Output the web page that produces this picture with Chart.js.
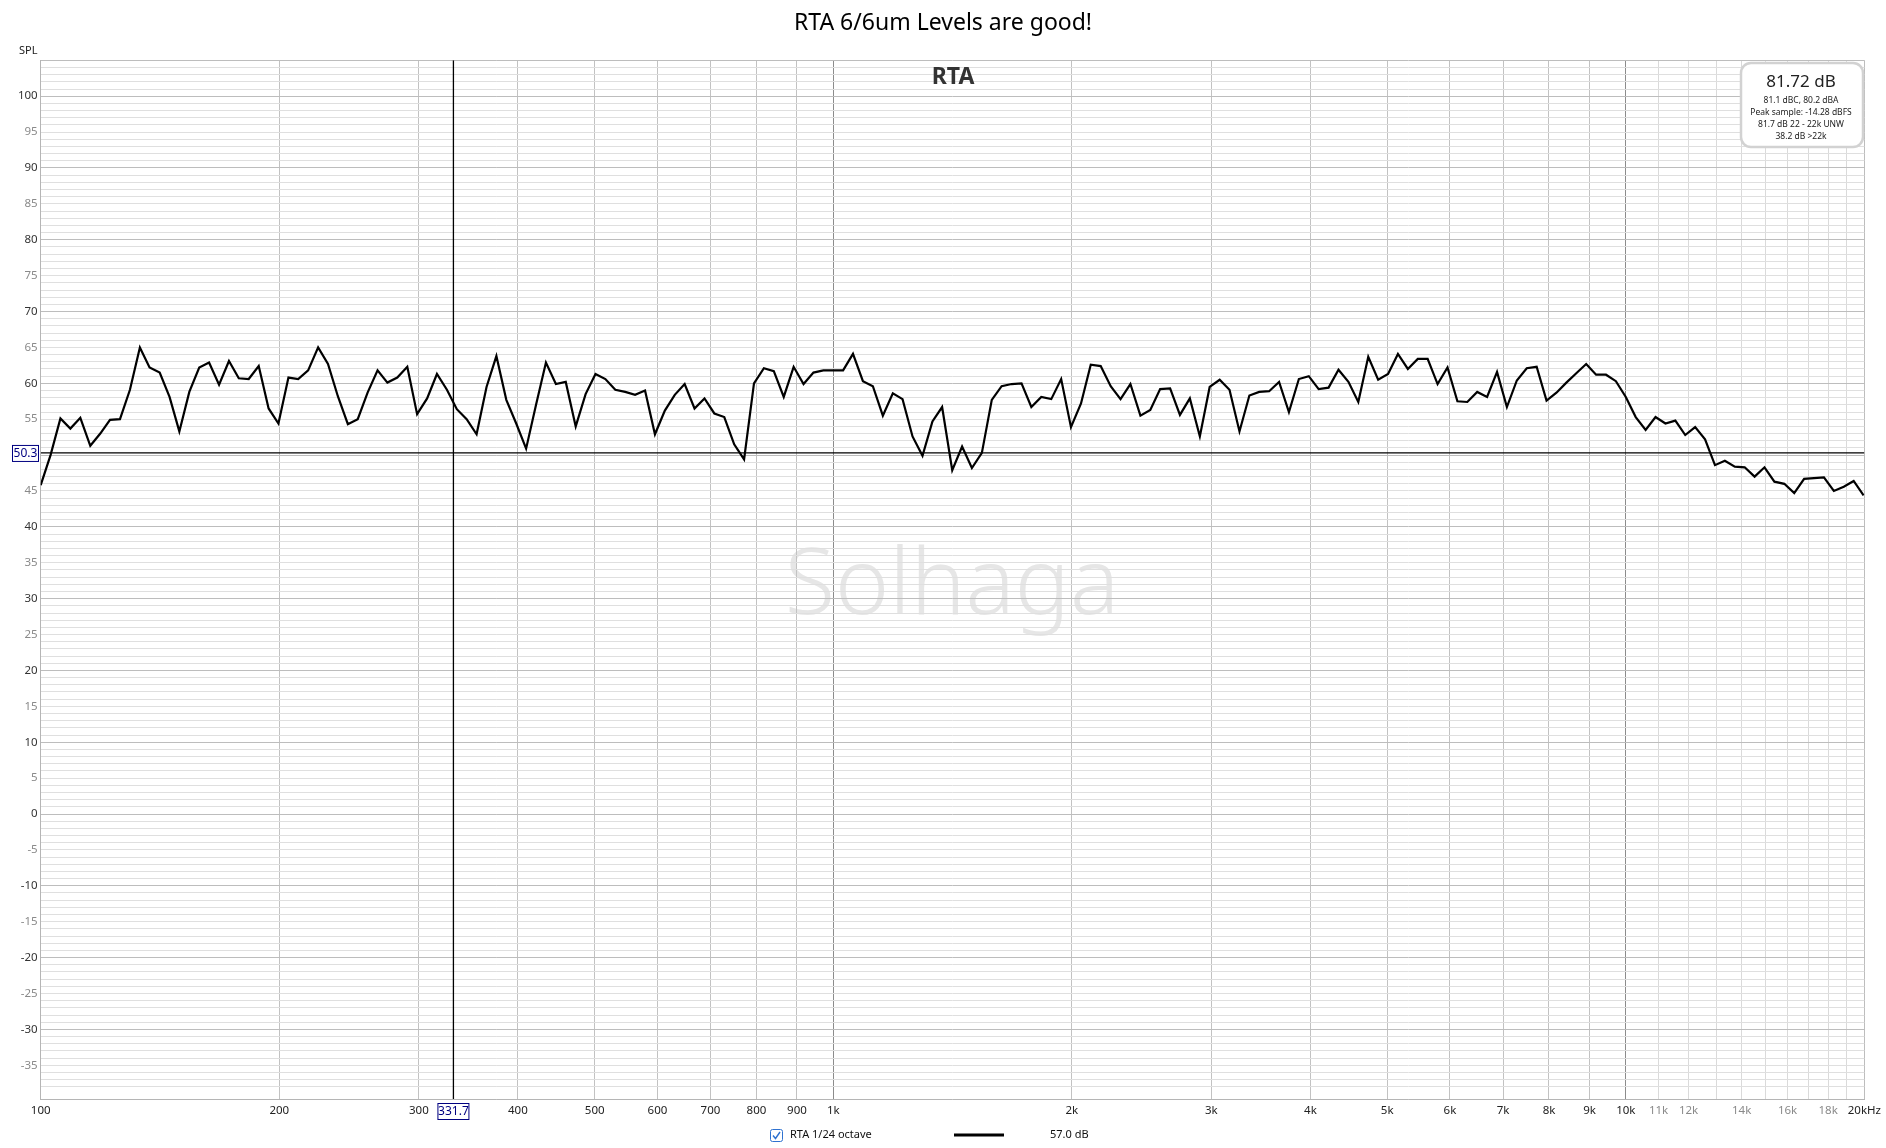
<!DOCTYPE html>
<html lang="en">
<head>
  <meta charset="UTF-8">
  <title>RTA 6/6um Levels are good!</title>
  <script src="https://cdn.jsdelivr.net/npm/chart.js"></script>
  <style>
    body { margin: 0; background: #fff; }
    #rtaChart { display: block; }
  </style>
</head>
<body>
  <canvas id="rtaChart" width="1886" height="1148"></canvas>
  <script>
    // 1/24 octave-ish analysis points (Hz)
    const freqs = [
      100, 102.9, 105.9, 109.0, 112.2, 115.5, 118.9, 122.3, 125.9, 129.6,
      133.4, 137.2, 141.3, 145.4, 149.6, 154.0, 158.5, 163.1, 167.9, 172.8,
      177.8, 183.0, 188.4, 193.9, 199.5, 205.4, 211.3, 217.5, 223.9, 230.4,
      237.1, 244.1, 251.2, 258.5, 266.1, 273.8, 281.8, 290.1, 298.5, 307.3,
      316.2, 325.5, 335.0, 344.7, 354.8, 365.2, 375.8, 386.8, 398.1, 409.7,
      421.7, 434.0, 446.7, 459.7, 473.2, 487.0, 501.2, 515.8, 530.9, 546.4,
      562.3, 578.8, 595.7, 613.1, 631.0, 649.4, 668.3, 687.9, 707.9, 728.6,
      749.9, 771.8, 794.3, 817.5, 841.4, 866.0, 891.3, 917.3, 944.1, 971.6,
      1000, 1029, 1059, 1090, 1122, 1155, 1189, 1223, 1259, 1296,
      1334, 1372, 1413, 1454, 1496, 1540, 1585, 1631, 1679, 1728,
      1778, 1830, 1884, 1939, 1995, 2054, 2113, 2175, 2239, 2304,
      2371, 2441, 2512, 2585, 2661, 2738, 2818, 2901, 2985, 3073,
      3162, 3255, 3350, 3447, 3548, 3652, 3758, 3868, 3981, 4097,
      4217, 4340, 4467, 4597, 4732, 4870, 5012, 5158, 5309, 5464,
      5623, 5788, 5957, 6131, 6310, 6494, 6683, 6879, 7079, 7286,
      7499, 7718, 7943, 8175, 8414, 8660, 8913, 9173, 9441, 9716,
      10000, 10292, 10593, 10902, 11220, 11548, 11885, 12232, 12589, 12957,
      13335, 13725, 14125, 14538, 14962, 15399, 15849, 16312, 16788, 17278,
      17783, 18302, 18837, 19387, 19953
    ];

    // SPL (dB)
    const spl = [
      45.8, 50.0, 55.1, 53.7, 55.2, 51.3, 53.0, 54.9, 55.0, 59.1,
      65.0, 62.2, 61.5, 58.1, 53.3, 58.8, 62.2, 62.9, 59.8, 63.1,
      60.7, 60.6, 62.4, 56.5, 54.4, 60.8, 60.6, 61.8, 65.0, 62.7,
      58.2, 54.3, 55.0, 58.7, 61.8, 60.1, 60.8, 62.3, 55.7, 57.9,
      61.3, 59.1, 56.4, 55.0, 52.9, 59.5, 63.8, 57.7, 54.4, 50.9,
      57.0, 62.9, 59.9, 60.2, 54.0, 58.5, 61.3, 60.6, 59.1, 58.8,
      58.4, 59.0, 52.9, 56.2, 58.4, 59.9, 56.5, 57.9, 55.8, 55.3,
      51.5, 49.4, 60.0, 62.1, 61.7, 58.1, 62.3, 59.9, 61.5, 61.8,
      61.8, 61.8, 64.1, 60.3, 59.6, 55.5, 58.6, 57.8, 52.6, 49.9,
      54.7, 56.7, 47.9, 51.2, 48.2, 50.3, 57.7, 59.6, 59.9, 60.0,
      56.7, 58.1, 57.8, 60.6, 53.9, 57.2, 62.6, 62.4, 59.6, 57.8,
      59.9, 55.5, 56.3, 59.2, 59.3, 55.6, 57.9, 52.6, 59.5, 60.5,
      59.1, 53.3, 58.3, 58.8, 58.9, 60.2, 56.0, 60.6, 61.0, 59.2,
      59.4, 61.9, 60.2, 57.4, 63.7, 60.5, 61.3, 64.1, 62.0, 63.4,
      63.4, 59.9, 62.2, 57.5, 57.4, 58.8, 58.1, 61.6, 56.7, 60.4,
      62.1, 62.3, 57.6, 58.7, 60.1, 61.4, 62.7, 61.2, 61.2, 60.3,
      58.1, 55.3, 53.5, 55.3, 54.4, 54.8, 52.8, 53.9, 52.2, 48.6,
      49.2, 48.4, 48.3, 47.0, 48.3, 46.3, 46.0, 44.7, 46.7, 46.8,
      46.9, 45.0, 45.6, 46.4, 44.4
    ];

    const xTicks = [100, 200, 300, 400, 500, 600, 700, 800, 900,
      1000, 2000, 3000, 4000, 5000, 6000, 7000, 8000, 9000,
      10000, 11000, 12000, 13000, 14000, 15000, 16000, 17000, 18000, 19000, 20000];
    const xTickLabels = ['100', '200', '300', '400', '500', '600', '700', '800', '900',
      '1k', '2k', '3k', '4k', '5k', '6k', '7k', '8k', '9k',
      '10k', '11k', '12k', '', '14k', '', '16k', '', '18k', '', '20kHz'];
    const greyXLabels = ['11k', '12k', '14k', '16k', '18k'];

    const yMin = -39.7;
    const yMax = 105;
    const yLabelTop = 100;
    const cursorFreq = 331.7;
    const cursorLevel = 50.3;

    const infoMain = '81.72 dB';
    const infoLines = ['81.1 dBC, 80.2 dBA', 'Peak sample: -14.28 dBFS', '81.7 dB 22 - 22k UNW', '38.2 dB >22k'];
    const legendLabel = 'RTA 1/24 octave';
    const legendValue = '57.0 dB';

    const FONT = '"Noto Sans", "Open Sans", sans-serif';

    const overlay = {
      id: 'overlay',
      beforeDraw(chart) {
        // watermark sits under the grid
        const ctx = chart.ctx;
        ctx.save();
        ctx.font = '300 92px ' + FONT;
        ctx.fillStyle = '#e6e6e6';
        ctx.textAlign = 'center';
        ctx.textBaseline = 'alphabetic';
        ctx.fillText('Solhaga', 952, 614);
        ctx.restore();
      },
      afterDraw(chart) {
        const ctx = chart.ctx;
        const xs = chart.scales.x, ys = chart.scales.y;
        ctx.save();

        // title
        ctx.fillStyle = '#000';
        ctx.font = '23px ' + FONT;
        ctx.textAlign = 'center';
        ctx.textBaseline = 'alphabetic';
        ctx.fillText('RTA 6/6um Levels are good!', 943, 30);

        // axis name
        ctx.font = '11px ' + FONT;
        ctx.textAlign = 'left';
        ctx.textBaseline = 'middle';
        ctx.fillStyle = '#222';
        ctx.fillText('SPL', 19, 51);

        // graph name
        ctx.font = 'bold 23px ' + FONT;
        ctx.textAlign = 'center';
        ctx.fillStyle = '#333';
        ctx.fillText('RTA', 953, 77);

        // info box
        ctx.beginPath();
        ctx.roundRect(1741, 63, 122, 84, 10);
        ctx.fillStyle = '#fff';
        ctx.fill();
        ctx.lineWidth = 2.5;
        ctx.strokeStyle = '#d2d2d2';
        ctx.stroke();
        ctx.fillStyle = '#222';
        ctx.font = '17px ' + FONT;
        ctx.fillText(infoMain, 1801, 82);
        ctx.font = '8.5px ' + FONT;
        infoLines.forEach((t, i) => ctx.fillText(t, 1801, 101 + i * 11.7));

        // cursor readouts
        ctx.font = '12px ' + FONT;
        const cx = xs.getPixelForValue(cursorFreq);
        ctx.fillStyle = '#fff';
        ctx.fillRect(437, 1103, 32, 17);
        ctx.fillRect(12, 444, 27, 17);
        ctx.strokeStyle = '#000080';
        ctx.lineWidth = 1;
        ctx.strokeRect(cx - 16 + 0.5, 1103.5, 31, 16);
        const cy = ys.getPixelForValue(cursorLevel);
        ctx.strokeRect(12.5, cy - 8 + 0.5, 26, 16);
        ctx.fillStyle = '#000080';
        ctx.fillText(String(cursorFreq), cx, 1112);
        ctx.fillText(String(cursorLevel), 25.5, cy + 1);

        // legend
        const bx = 770, by = 1129;
        ctx.beginPath();
        ctx.roundRect(bx + 0.5, by + 0.5, 12, 12, 2);
        ctx.strokeStyle = '#2f72d0';
        ctx.lineWidth = 1;
        ctx.stroke();
        ctx.beginPath();
        ctx.moveTo(bx + 3, by + 6.5);
        ctx.lineTo(bx + 5.5, by + 9.5);
        ctx.lineTo(bx + 10, by + 3);
        ctx.lineWidth = 1.4;
        ctx.stroke();
        ctx.fillStyle = '#111';
        ctx.font = '11px ' + FONT;
        ctx.textAlign = 'left';
        ctx.fillText(legendLabel, 790, 1135);
        ctx.fillText(legendValue, 1050, 1135);
        ctx.beginPath();
        ctx.moveTo(954, 1135);
        ctx.lineTo(1004, 1135);
        ctx.strokeStyle = '#000';
        ctx.lineWidth = 3;
        ctx.stroke();

        ctx.restore();
      }
    };

    const ctx = document.getElementById('rtaChart').getContext('2d');
    const chart = new Chart(ctx, {
      type: 'line',
      data: {
        datasets: [{
          label: 'RTA 1/24 octave',
          data: freqs.map((f, i) => ({ x: f, y: spl[i] })),
          borderColor: '#000',
          borderWidth: 2.2,
          pointRadius: 0,
          tension: 0
        }, {
          label: 'cursor x',
          data: [{ x: cursorFreq, y: yMin }, { x: cursorFreq, y: yMax }],
          borderColor: '#000',
          borderWidth: 1.3,
          pointRadius: 0
        }, {
          label: 'cursor y',
          data: [{ x: 100, y: cursorLevel }, { x: 20000, y: cursorLevel }],
          borderColor: '#000',
          borderWidth: 1.3,
          pointRadius: 0
        }]
      },
      options: {
        responsive: false,
        animation: false,
        layout: { padding: { top: 60.3, right: 20, left: 0, bottom: 0 } },
        plugins: {
          legend: { display: false },
          title: { display: false },
          tooltip: { enabled: false }
        },
        scales: {
          x: {
            type: 'logarithmic',
            min: 100,
            max: 20000,
            afterBuildTicks: s => { s.ticks = xTicks.map(v => ({ value: v })); },
            afterFit: s => { s.height = 49; },
            ticks: {
              autoSkip: false,
              maxRotation: 0,
              padding: 5,
              font: { family: FONT, size: 11.5 },
              color: c => greyXLabels.includes(xTickLabels[c.index]) ? '#8a8a8a' : '#222',
              callback: (v, i) => xTickLabels[i]
            },
            grid: {
              drawTicks: false,
              color: c => {
                const v = c.tick.value;
                if (v === 1000 || v === 10000) return '#8c8c8c';
                if (v === 20000) return '#bdbdbd';
                if (v > 10000) return '#dadada';
                return '#c2c2c2';
              }
            },
            border: { color: '#b5b5b5' }
          },
          y: {
            min: yMin,
            max: yMax,
            afterFit: s => { s.width = 40.7; },
            ticks: {
              stepSize: 1,
              autoSkip: false,
              padding: 3,
              font: { family: FONT, size: 11.5 },
              color: c => (c.tick.value % 10 === 0 ? '#333' : '#8a8a8a'),
              callback: v => (v % 5 === 0 && v <= yLabelTop ? String(v) : '')
            },
            grid: {
              drawTicks: false,
              color: c => {
                const v = c.tick.value;
                if (v === yMax) return '#bdbdbd';
                if (v % 10 === 0) return '#bdbdbd';
                return '#dfdfdf';
              }
            },
            border: { color: '#b5b5b5' }
          }
        }
      },
      plugins: [overlay]
    });
  </script>
</body>
</html>
